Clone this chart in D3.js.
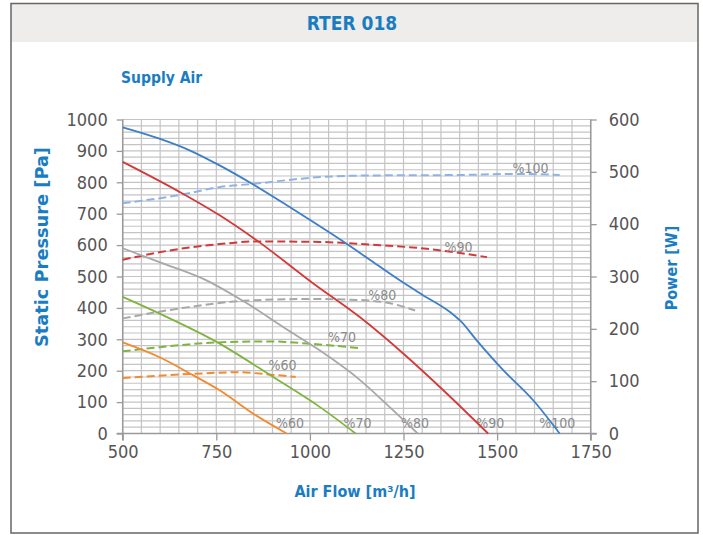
<!DOCTYPE html>
<html><head><meta charset="utf-8">
<script src="https://cdn.jsdelivr.net/npm/d3@7"></script>
<style>
html,body{margin:0;padding:0;background:#fff;}
svg{display:block;}
</style></head>
<body>
<div id="chart"></div>
<script>
// ---------- DATA ----------
const xTicks = [500, 750, 1000, 1250, 1500, 1750];
const yTicksPressure = [0, 100, 200, 300, 400, 500, 600, 700, 800, 900, 1000];
const yTicksPower = [0, 100, 200, 300, 400, 500, 600];
const speedLabels = ["%60", "%70", "%80", "%90", "%100"];

// Static pressure curves [airflow m3/h, Pa]
const pressure60 = [[500,290],[600,242],[689,185],[760,137],[849,63],[938,0]];
const pressure70 = [[500,435],[600,381],[752,291],[903,179],[1027,84],[1122,0]];
const pressure80 = [[500,590],[600,545],[725,487],[823,421],[943,328],[1027,264],[1134,170],[1206,92],[1288,0]];
const pressure90 = [[500,865],[654,768],[760,694],[858,615],[1010,477],[1134,370],[1250,254],[1357,137],[1476,0]];
const pressure100 = [[500,975],[600,938],[680,901],[760,853],[850,792],[950,718],[1010,673],[1100,603],[1157,556],[1241,487],[1300,442],[1375,386],[1401,360],[1446,296],[1517,201],[1597,105],[1667,0]];

// Power curves [airflow m3/h, W]
const power60 = [[500,106],[689,114],[805,117],[903,112],[962,108]];
const power70 = [[500,157],[600,165],[752,174],[894,176],[992,172],[1134,163]];
const power80 = [[500,220],[671,241],[832,254],[1000,257],[1134,255],[1220,248],[1281,235]];
const power90 = [[500,332],[654,353],[760,362],[858,367],[1027,366],[1157,361],[1312,353],[1473,337]];
const power100 = [[500,440],[654,456],[760,471],[849,477],[1027,490],[1157,493],[1401,494],[1544,496],[1667,494]];

// label anchor positions
const endLabelFlows = [947, 1127, 1281, 1482, 1661];      // bottom labels, near 0 Pa
const powerLabelAnchors = [[927,131],[1086,185],[1193,265],[1397,357],[1589,508]]; // [airflow, W]

const colors = ["#f28a30", "#80b341", "#a8a8a8", "#d23a3a", "#3d7fc6"];
const powerColors = ["#f28a30", "#80b341", "#a8a8a8", "#d23a3a", "#8fb4e3"];

// ---------- LAYOUT ----------
const W = 703, H = 535;
const svg = d3.select("#chart").append("svg").attr("width", W).attr("height", H);
const blue = "#1a7dc1";
const tickFont = "'Liberation Sans Narrow','DejaVu Sans Condensed','Arial Narrow',sans-serif";

// frame + title band
svg.append("rect").attr("x", 11).attr("y", 3.5).attr("width", 687).attr("height", 38.5).attr("fill", "#eeedeb");
svg.append("rect").attr("x", 11).attr("y", 3.5).attr("width", 687).attr("height", 529.5)
  .attr("fill", "none").attr("stroke", "#666").attr("stroke-width", 1.5);

svg.append("text").attr("x", 352).attr("y", 30).attr("text-anchor", "middle")
  .attr("font-family", tickFont).attr("font-weight", "bold").attr("font-size", 19)
  .attr("fill", blue).text("RTER 018");
svg.append("text").attr("x", 121).attr("y", 83)
  .attr("font-family", tickFont).attr("font-weight", "bold").attr("font-size", 15.5)
  .attr("fill", blue).text("Supply Air");

const x = d3.scaleLinear().domain([500, 1750]).range([122.7, 590.7]);
const y = d3.scaleLinear().domain([0, 1000]).range([433.5, 119.5]);
const yP = d3.scaleLinear().domain([0, 600]).range([433.5, 119.5]);

const g = svg.append("g");

// grid
const gridColor = "#c4c4c4";
g.append("g").selectAll("line").data(d3.range(0, 1001, 20)).join("line")
  .attr("x1", x(500)).attr("x2", x(1750)).attr("y1", d => y(d)).attr("y2", d => y(d))
  .attr("stroke", gridColor).attr("stroke-width", 1.2);
g.append("g").selectAll("line").data(d3.range(500, 1751, 50)).join("line")
  .attr("x1", d => x(d)).attr("x2", d => x(d)).attr("y1", y(0)).attr("y2", y(1000))
  .attr("stroke", gridColor).attr("stroke-width", 1.2);

// axes
const axisColor = "#9a9a9a";
function styleAxis(sel) {
  sel.select(".domain").remove();
  sel.selectAll(".tick line").attr("stroke", axisColor).attr("stroke-width", 1.3);
  sel.selectAll(".tick text").attr("font-family", tickFont).attr("font-size", 18).attr("fill", "#555");
}
const xAxis = g.append("g").attr("transform", `translate(0,${y(0)})`)
  .call(d3.axisBottom(x).tickValues(xTicks).tickSize(7).tickPadding(5).tickFormat(d3.format("d")));
styleAxis(xAxis);
const yAxis = g.append("g").attr("transform", `translate(${x(500)},0)`)
  .call(d3.axisLeft(y).tickValues(yTicksPressure).tickSize(6).tickPadding(9).tickFormat(d3.format("d")));
styleAxis(yAxis);
const yAxisR = g.append("g").attr("transform", `translate(${x(1750)},0)`)
  .call(d3.axisRight(yP).tickValues(yTicksPower).tickSize(6).tickPadding(12).tickFormat(d3.format("d")));
styleAxis(yAxisR);
// axis lines
g.append("line").attr("x1", x(500) - 6).attr("x2", x(1750) + 6).attr("y1", y(0)).attr("y2", y(0))
  .attr("stroke", axisColor).attr("stroke-width", 1.5);
g.append("line").attr("x1", x(500)).attr("x2", x(500)).attr("y1", y(1000)).attr("y2", y(0) + 7)
  .attr("stroke", axisColor).attr("stroke-width", 1.5);
g.append("line").attr("x1", x(1750)).attr("x2", x(1750)).attr("y1", y(1000)).attr("y2", y(0) + 7)
  .attr("stroke", axisColor).attr("stroke-width", 1.5);

// axis titles
svg.append("text").attr("transform", "translate(48,247) rotate(-90)").attr("text-anchor", "middle")
  .attr("font-family", tickFont).attr("font-weight", "bold").attr("font-size", 17)
  .attr("textLength", 200).attr("lengthAdjust", "spacingAndGlyphs")
  .attr("fill", blue).text("Static Pressure [Pa]");
svg.append("text").attr("transform", "translate(677,268) rotate(-90)").attr("text-anchor", "middle")
  .attr("font-family", tickFont).attr("font-weight", "bold").attr("font-size", 16)
  .attr("fill", blue).text("Power [W]");
svg.append("text").attr("x", 355).attr("y", 497).attr("text-anchor", "middle")
  .attr("font-family", tickFont).attr("font-weight", "bold").attr("font-size", 16)
  .attr("fill", blue).text("Air Flow [m³/h]");

// curves
const lineP = d3.line().x(d => x(d[0])).y(d => y(d[1])).curve(d3.curveMonotoneX);
const lineW = d3.line().x(d => x(d[0])).y(d => yP(d[1])).curve(d3.curveMonotoneX);
const pressureSeries = [pressure60, pressure70, pressure80, pressure90, pressure100];
const powerSeries = [power60, power70, power80, power90, power100];

const labelFont = tickFont;
// bottom labels (drawn under curves)
g.append("g").selectAll("text").data(speedLabels).join("text")
  .attr("x", (d, i) => x(endLabelFlows[i])).attr("y", y(0) - 11).attr("text-anchor", "middle")
  .attr("dominant-baseline", "central")
  .attr("font-family", labelFont).attr("font-size", 14).attr("fill", "#8a8a8a").text(d => d);

powerSeries.forEach((s, i) => {
  g.append("path").datum(s).attr("d", lineW).attr("fill", "none")
    .attr("stroke", powerColors[i]).attr("stroke-width", 2).attr("stroke-dasharray", "8,4");
});
pressureSeries.forEach((s, i) => {
  g.append("path").datum(s).attr("d", lineP).attr("fill", "none")
    .attr("stroke", colors[i]).attr("stroke-width", 1.8);
});

// power curve labels
g.append("g").selectAll("text").data(speedLabels).join("text")
  .attr("x", (d, i) => x(powerLabelAnchors[i][0])).attr("y", (d, i) => yP(powerLabelAnchors[i][1]))
  .attr("text-anchor", "middle").attr("dominant-baseline", "central")
  .attr("font-family", labelFont).attr("font-size", 14).attr("fill", "#8a8a8a").text(d => d);
</script>
</body></html>
